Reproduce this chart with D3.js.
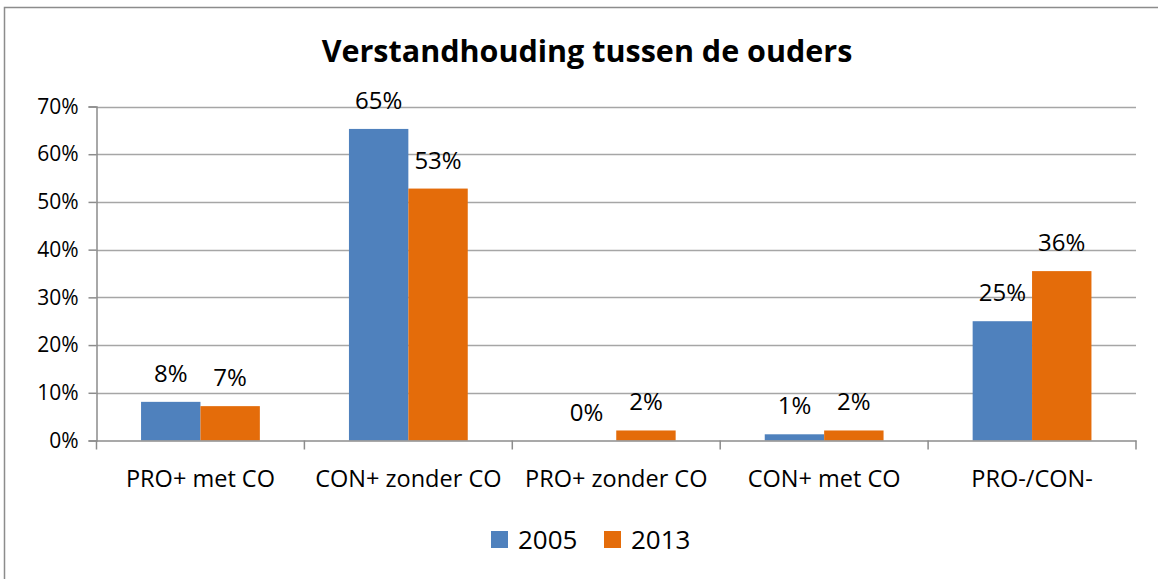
<!DOCTYPE html>
<html>
<head>
<meta charset="utf-8">
<script src="https://cdn.jsdelivr.net/npm/d3@7"></script>
<style>
  body { margin: 0; background: #fff; }
  svg text { font-family: "Open Sans", "Liberation Sans", sans-serif; fill: #000; }
</style>
</head>
<body>
<svg id="chart" width="1158" height="579"></svg>
<script>
// data
var categories = ["PRO+ met CO", "CON+ zonder CO", "PRO+ zonder CO", "CON+ met CO", "PRO-/CON-"];
var seriesNames = ["2005", "2013"];
var values2005 = [0.081, 0.653, 0.0, 0.013, 0.250];
var values2013 = [0.072, 0.528, 0.021, 0.021, 0.355];
var labels2005 = ["8%", "65%", "0%", "1%", "25%"];
var labels2013 = ["7%", "53%", "2%", "2%", "36%"];
var yTicks = [0, 0.1, 0.2, 0.3, 0.4, 0.5, 0.6, 0.7];
var colors = ["#4f81bd", "#e46c0a"];

var svg = d3.select("#chart");
var width = +svg.attr("width");
var height = +svg.attr("height");

// chart border (only top and left are visible in the crop)
svg.append("path")
    .attr("d", "M4.5," + height + "V7.5H" + width)
    .attr("fill", "none").attr("stroke", "#8c8c8c").attr("stroke-width", 1.5);

var margin = {left: 96.5, right: 22, top: 106.5, bottom: 138.5};

var x = d3.scaleBand().domain(categories).range([margin.left, width - margin.right]);
var x1 = d3.scaleBand().domain(seriesNames).range([0, x.bandwidth()]).paddingInner(0).paddingOuter(0.75);
var y = d3.scaleLinear().domain([0, 0.7]).range([height - margin.bottom, margin.top]);

svg.append("text")
    .attr("x", 587)
    .attr("y", 62)
    .attr("text-anchor", "middle")
    .style("font-size", "30.5px")
    .style("font-weight", "bold")
    .text("Verstandhouding tussen de ouders");

// grid
svg.append("g").selectAll("line").data(yTicks.slice(1)).enter().append("line")
    .attr("x1", margin.left).attr("x2", width - margin.right)
    .attr("y1", d => Math.round(y(d)) + 0.5).attr("y2", d => Math.round(y(d)) + 0.5)
    .attr("stroke", "#a6a6a6").attr("stroke-width", 1.5);

// y axis
var yAxis = d3.axisLeft(y).tickValues(yTicks).tickFormat(d3.format(".0%")).tickSize(8).tickPadding(10);
var gy = svg.append("g").attr("transform", "translate(" + margin.left + ",0)").call(yAxis);
gy.select(".domain").attr("stroke", "#8c8c8c").attr("stroke-width", 1.5);
gy.selectAll(".tick line").attr("stroke", "#8c8c8c").attr("stroke-width", 1.5);
gy.selectAll(".tick text").style("font-size", "21px").attr("fill", "#000");

// bars
var rows = categories.map((c, i) => ({cat: c, vals: [
    {s: "2005", v: values2005[i], lbl: labels2005[i], c: colors[0]},
    {s: "2013", v: values2013[i], lbl: labels2013[i], c: colors[1]}
]}));

var groups = svg.append("g").selectAll("g").data(rows).enter().append("g")
    .attr("transform", d => "translate(" + x(d.cat) + ",0)");

groups.selectAll("rect").data(d => d.vals).enter().append("rect")
    .attr("x", d => x1(d.s))
    .attr("width", x1.bandwidth())
    .attr("y", d => y(d.v))
    .attr("height", d => y(0) - y(d.v))
    .attr("fill", d => d.c);

groups.selectAll(".lbl").data(d => d.vals).enter().append("text")
    .attr("class", "lbl")
    .attr("x", d => x1(d.s) + x1.bandwidth() / 2)
    .attr("y", d => y(d.v) - 20)
    .attr("text-anchor", "middle")
    .style("font-size", "24px")
    .text(d => d.lbl);

// x axis
var xAxis = d3.axisBottom(x).tickSize(0);
var gx = svg.append("g").attr("transform", "translate(0," + (y(0)) + ")").call(xAxis);
gx.select(".domain").attr("stroke", "#8c8c8c").attr("stroke-width", 1.5);
gx.selectAll(".tick text").attr("y", 46).attr("dy", 0).style("font-size", "23.5px").attr("fill", "#000");
// category boundary ticks
var bounds = categories.map(c => x(c)).concat([x(categories[categories.length - 1]) + x.bandwidth()]);
gx.selectAll(".bnd").data(bounds).enter().append("line")
    .attr("x1", d => d).attr("x2", d => d)
    .attr("y1", 0).attr("y2", 9)
    .attr("stroke", "#8c8c8c").attr("stroke-width", 1.5);

// legend
var legend = svg.append("g").attr("transform", "translate(491,531)");
var li = legend.selectAll("g").data(seriesNames).enter().append("g")
    .attr("transform", (d, i) => "translate(" + (i * 113) + ",0)");
li.append("rect").attr("width", 17).attr("height", 17).attr("fill", (d, i) => colors[i]);
li.append("text").attr("x", 27).attr("y", 18).style("font-size", "26px").text(d => d);
</script>
</body>
</html>
